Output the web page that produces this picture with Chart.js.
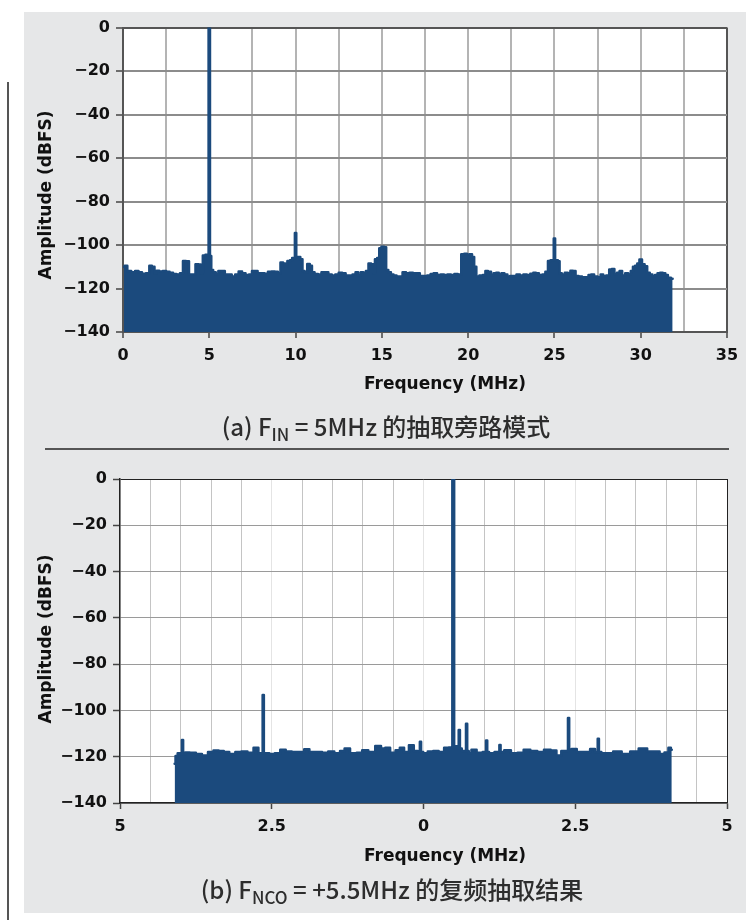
<!DOCTYPE html>
<html>
<head>
<meta charset="utf-8">
<script src="https://cdn.jsdelivr.net/npm/chart.js@4.4.1/dist/chart.umd.min.js"></script>
<style>
  html, body { margin:0; padding:0; background:#fff; }
  body { width:756px; height:922px; position:relative; overflow:hidden; }
  #panel { position:absolute; left:24px; top:12px; width:722px; height:901px; background:#e6e7e8; }
  #vline { position:absolute; left:7px; top:82px; width:2px; height:838px; background:#555; }
  #sep { position:absolute; left:45px; top:448px; width:684px; height:1.5px; background:#555; }
  canvas { position:absolute; }
  .ytitle { position:absolute; font-family:"DejaVu Sans", sans-serif; font-weight:bold; font-size:17px; color:#111;
            transform:translate(-50%,-50%) rotate(-90deg); white-space:nowrap; }
  .xtitle { position:absolute; font-family:"DejaVu Sans", sans-serif; font-weight:bold; font-size:17px; color:#111;
            transform:translate(-50%,-50%); white-space:nowrap; }
  .cap { position:absolute; font-family:"Noto Sans CJK SC", "Noto Sans", sans-serif; font-size:24px; font-weight:500; color:#2d2d2d;
         transform:translate(-50%,-50%); white-space:nowrap; }
  .cap sub { font-size:17px; vertical-align:-5px; line-height:0; }
</style>
</head>
<body>
<div id="panel"></div>
<div id="vline"></div>
<div id="sep"></div>
<canvas id="chartA" width="732" height="400" style="left:24px;top:12px;"></canvas>
<canvas id="chartB" width="732" height="400" style="left:24px;top:460px;"></canvas>
<div class="ytitle" style="left:45px;top:195px;">Amplitude (dBFS)</div>
<div class="xtitle" style="left:445px;top:383px;">Frequency (MHz)</div>
<div class="cap" style="left:386px;top:425px;">(a) F<sub>IN</sub> = 5MHz 的抽取旁路模式</div>
<div class="ytitle" style="left:45px;top:639px;">Amplitude (dBFS)</div>
<div class="xtitle" style="left:445px;top:855px;">Frequency (MHz)</div>
<div class="cap" style="left:392px;top:888px;">(b) F<sub>NCO</sub> = +5.5MHz 的复频抽取结果</div>
<script>
// ---------- Data: chart (a) F_IN = 5 MHz, decimation bypass ----------
const freqA = [0.05,0.15,0.35,0.6,0.8,1.0,1.2,1.45,1.6,1.75,1.9,2.0,2.2,2.4,2.6,2.8,3.0,3.2,3.4,3.55,3.75,3.9,4.1,4.3,4.45,4.55,4.7,4.85,
  4.92,5.0,5.08,5.15,5.3,5.45,5.6,5.8,6.0,6.2,6.4,6.6,6.8,7.0,7.2,7.4,7.55,7.7,7.9,8.1,8.3,8.5,8.7,8.9,9.05,9.2,9.35,9.45,9.6,9.75,9.85,
  9.92,10.0,10.08,10.2,10.35,10.45,10.6,10.75,10.9,11.0,11.2,11.4,11.6,11.8,12.0,12.2,12.4,12.6,12.8,13.0,13.2,13.4,13.55,13.7,13.85,
  14.0,14.15,14.3,14.45,14.55,14.65,14.8,14.9,15.05,15.2,15.3,15.45,15.6,15.75,15.95,16.1,16.3,16.5,16.7,16.9,17.1,17.3,17.5,17.75,
  17.9,18.1,18.3,18.5,18.7,18.9,19.1,19.3,19.5,19.7,19.85,20.0,20.15,20.3,20.4,20.55,20.75,20.95,21.05,21.25,21.4,21.55,21.7,21.85,
  22.0,22.2,22.35,22.5,22.7,22.9,23.1,23.3,23.5,23.7,23.85,24.0,24.2,24.4,24.55,24.7,24.85,24.92,25.0,25.08,25.15,25.25,25.35,25.5,
  25.7,25.85,26.0,26.15,26.3,26.5,26.7,26.9,27.05,27.2,27.4,27.6,27.75,27.9,28.1,28.25,28.4,28.55,28.7,28.85,29.0,29.2,29.35,29.5,
  29.6,29.75,29.85,30.0,30.15,30.3,30.45,30.6,30.75,30.9,31.05,31.2,31.35,31.5,31.65,31.85];
const ampA = [-110,-109.5,-112,-112.5,-112,-112.5,-113.2,-113,-109.5,-110,-113,-111.8,-112.2,-112,-112.3,-112.8,-113.3,-113.5,-113,-107.3,-107.5,-113.5,-113.5,-108.8,-109,-113,-104.8,-104.5,
  -104.5,0,-105,-111.5,-112.5,-113.5,-112,-112,-113.5,-113.5,-114.5,-113.5,-112.2,-113,-113.8,-113.5,-112,-112,-113,-113,-113.2,-112.3,-112.2,-112.3,-113,-108,-108.5,-110,-107.3,-107,-106,
  -106,-94.5,-105.5,-105.5,-106.5,-112,-112.5,-108.7,-109.5,-112.5,-113.3,-113.5,-112.5,-112.5,-113.5,-114,-113.5,-112.8,-113,-114,-114,-113.5,-112.5,-114,-112.5,
  -112.8,-112,-108.5,-108.8,-113,-106.5,-106,-101.5,-100.8,-101,-111.5,-112.5,-113.5,-114,-114.5,-114.5,-112.5,-113,-112.8,-113,-113,-114.3,-114.3,-114,
  -113.3,-113,-113.8,-113.6,-113.8,-113.5,-113.8,-113.3,-113.5,-104.2,-104,-104.3,-104.2,-105.5,-110,-114.5,-114,-113.8,-112,-112.3,-114,-113,-112.8,-113.5,
  -113,-113.5,-114.5,-114.3,-114.2,-113.5,-114,-113.5,-113.8,-113.2,-112.7,-113,-113.8,-113.5,-112.3,-107.3,-107,-107,-97,-107,-107,-107.5,-113,-113.5,
  -112.8,-113,-111.8,-112,-114.3,-114.5,-114.8,-114.8,-113.8,-113.5,-114.5,-114.8,-113.5,-114.3,-114,-111.2,-111,-113.5,-112.8,-112,-114,-113,-113.5,-112,
  -110,-109.5,-108.5,-106.7,-108.8,-109.8,-112.8,-113.5,-114.5,-113.8,-113,-112.8,-113,-113.8,-115,-115.5];

// ---------- Data: chart (b) F_NCO = +5.5 MHz, complex decimation ----------
const freqB = [-4.1,-4.07,-4.03,-3.99,-3.97,-3.95,-3.9,-3.8,-3.7,-3.6,-3.5,-3.42,-3.33,-3.25,-3.15,-3.05,-2.95,-2.85,-2.75,-2.69,-2.66,-2.64,-2.62,
  -2.58,-2.5,-2.4,-2.32,-2.22,-2.12,-2.0,-1.93,-1.83,-1.72,-1.62,-1.52,-1.42,-1.33,-1.27,-1.15,-1.05,-0.97,-0.85,-0.74,-0.66,-0.6,-0.5,-0.42,
  -0.36,-0.28,-0.2,-0.12,-0.07,-0.05,-0.03,0.02,0.12,0.2,0.3,0.38,0.45,0.46,0.49,0.52,0.55,0.57,0.59,0.61,0.65,0.69,0.71,0.73,0.76,0.82,0.93,
  1.02,1.04,1.06,1.1,1.24,1.26,1.28,1.38,1.5,1.6,1.7,1.82,1.93,2.04,2.15,2.23,2.31,2.37,2.39,2.41,2.47,2.58,2.7,2.79,2.86,2.88,2.90,2.96,
  3.07,3.18,3.35,3.46,3.63,3.74,3.85,3.93,4.01,4.06,4.09];
const ampB = [-123,-119.7,-118.5,-119,-112.8,-119,-118.2,-118.3,-118.8,-119.5,-118,-117.3,-117.5,-118,-118.8,-118,-117.8,-118.3,-116.1,-118.5,-118.5,-93.3,-118.5,
  -118.5,-118.8,-118.5,-117,-117.8,-118,-118,-116.8,-118,-118,-118.3,-117.8,-118.5,-117.5,-116.4,-118.5,-118.3,-117.2,-118,-115.4,-116.5,-116.1,-118.3,-117.2,
  -116.1,-118,-115,-117.5,-117.8,-113.5,-118,-118.5,-117.8,-117.5,-118,-116.1,-116,-116,0,-116,-115.5,-116.5,-108.5,-116.5,-117.5,-117.5,-105.8,-117.5,-118.5,-117,-118.3,
  -118,-113,-118,-118.5,-118,-114.9,-118,-117.2,-118.5,-118.3,-117,-117.5,-118,-117,-117.3,-119.5,-117.5,-117.5,-103.3,-117,-116.7,-118,-118,-116.7,-118,-112.2,-118,-118.5,
  -118.5,-117.8,-118.8,-117.8,-116.4,-117.8,-117.8,-118.8,-118.2,-116.1,-117];

const ticksA = [0, 5, 10, 15, 20, 25, 30, 35];
const ticksB = [-5, -2.5, 0, 2.5, 5];
const ampTicks = [0, -20, -40, -60, -80, -100, -120, -140];

const BLUE = '#1b4a7d';
const FONT = { family: '"DejaVu Sans", sans-serif', weight: 'bold', size: 16 };
const minus = v => (v < 0 ? '\u2212' + Math.abs(v) : String(v));
const isMajor = (v, list) => list.some(t => Math.abs(t - v) < 1e-9);

const whiteArea = {
  id: 'whiteArea',
  beforeDraw(chart) {
    const a = chart.chartArea, c = chart.ctx;
    c.save(); c.fillStyle = '#fff'; c.fillRect(a.left, a.top, a.right - a.left, a.bottom - a.top); c.restore();
  }
};

function makeChart(id, xs, ys, cfg) {
  const pts = xs.map((x, i) => ({ x: x, y: ys[i] }));
  return new Chart(document.getElementById(id), {
    type: 'line',
    data: { datasets: [{
      data: pts, borderColor: BLUE, backgroundColor: BLUE, borderWidth: cfg.lw,
      pointRadius: 0, fill: 'start', stepped: 'middle', borderJoinStyle: 'round', borderCapStyle: 'round'
    }] },
    options: {
      responsive: false, animation: false, devicePixelRatio: 1,
      layout: { padding: { left: 0, top: cfg.padTop, right: 29, bottom: 0 } },
      plugins: { legend: { display: false }, tooltip: { enabled: false } },
      scales: {
        x: {
          type: 'linear', min: cfg.xmin, max: cfg.xmax,
          afterBuildTicks: s => { const t = []; for (let v = cfg.xmin; v <= cfg.xmax + 1e-9; v += cfg.xstep) t.push({ value: Math.round(v * 100) / 100 }); s.ticks = t; },
          afterFit: s => { s.height = cfg.xh; },
          ticks: { autoSkip: false, maxRotation: 0, padding: 8, color: '#111', font: FONT,
                   callback: v => isMajor(v, cfg.xt) ? cfg.xlabel(v) : '' },
          grid: { lineWidth: cfg.glw, tickLength: 6, tickWidth: 1.5,
                  color: c => cfg.xgrid(c.tick ? c.tick.value : 0),
                  tickColor: c => (c.tick && isMajor(c.tick.value, cfg.xt)) ? '#444' : 'rgba(0,0,0,0)' },
          border: { display: true, color: cfg.bc, width: cfg.bw }
        },
        y: {
          min: -140, max: 0,
          afterBuildTicks: s => { s.ticks = ampTicks.slice().reverse().map(v => ({ value: v })); },
          afterFit: s => { s.width = cfg.yw; },
          ticks: { padding: 6, color: '#111', font: FONT, callback: v => minus(v) },
          grid: { lineWidth: cfg.glw, tickLength: 7, tickWidth: 1.5,
                  color: c => (c.tick && c.tick.value === 0) ? cfg.bc : cfg.ygridColor, tickColor: '#444' },
          border: { display: true, color: cfg.bc, width: cfg.bw }
        }
      }
    },
    plugins: [whiteArea]
  });
}

makeChart('chartA', freqA, ampA, {
  lw: 2.5, padTop: 15, xh: 80, yw: 99, xmin: 0, xmax: 35, xstep: 2.5, xt: ticksA, glw: 2,
  xlabel: v => String(v),
  xgrid: v => (v === 35 ? '#555' : '#b4b4b4'),
  ygridColor: '#8c8c8c', bc: '#555', bw: 2
});

makeChart('chartB', freqB, ampB, {
  lw: 2.5, padTop: 19, xh: 57, yw: 96, xmin: -5, xmax: 5, xstep: 0.5, xt: ticksB, glw: 1,
  xlabel: v => String(Math.abs(v)),
  xgrid: v => (v === 5 ? '#222' : (isMajor(v, ticksB) ? '#e4e4e4' : '#c4c4c4')),
  ygridColor: '#9a9a9a', bc: '#222', bw: 1.5
});
</script>
</body>
</html>
